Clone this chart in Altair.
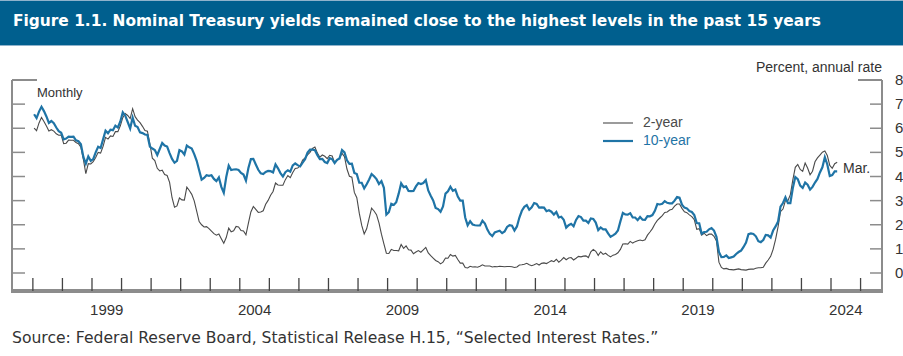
import altair as alt
import pandas as pd

# ---------------- data (monthly averages, Jan 1997 - Mar 2024) ----------------
first_year = 1997
yield_2y = [
    6.01, 5.90, 6.22, 6.45, 6.28, 6.09, 5.89, 5.94, 5.88, 5.77, 5.71, 5.72,  # 1997
    5.36, 5.38, 5.51, 5.50, 5.50, 5.41, 5.36, 5.21, 4.71, 4.12, 4.53, 4.52,  # 1998
    4.62, 4.79, 5.00, 4.97, 5.25, 5.62, 5.55, 5.68, 5.66, 5.86, 5.86, 6.10,  # 1999
    6.44, 6.61, 6.53, 6.40, 6.81, 6.48, 6.34, 6.23, 6.08, 5.91, 5.88, 5.35,  # 2000
    4.76, 4.66, 4.34, 4.23, 4.26, 4.08, 4.04, 3.76, 3.12, 2.73, 2.78, 3.11,  # 2001
    3.03, 3.02, 3.56, 3.42, 3.26, 2.99, 2.56, 2.13, 2.00, 1.91, 1.92, 1.84,  # 2002
    1.74, 1.63, 1.57, 1.62, 1.42, 1.23, 1.47, 1.86, 1.71, 1.75, 1.93, 1.91,  # 2003
    1.76, 1.74, 1.58, 2.07, 2.53, 2.76, 2.64, 2.51, 2.53, 2.58, 2.85, 3.01,  # 2004
    3.22, 3.38, 3.73, 3.65, 3.64, 3.64, 3.87, 4.04, 3.95, 4.17, 4.33, 4.35,  # 2005
    4.45, 4.68, 4.77, 4.90, 5.00, 5.16, 5.22, 4.97, 4.80, 4.89, 4.84, 4.74,  # 2006
    4.88, 4.85, 4.57, 4.67, 4.77, 4.96, 4.82, 4.31, 4.01, 3.97, 3.34, 3.12,  # 2007
    2.48, 1.97, 1.62, 1.83, 2.26, 2.69, 2.57, 2.42, 2.08, 1.61, 1.21, 0.82,  # 2008
    0.81, 0.98, 0.93, 0.93, 0.92, 1.18, 1.02, 1.12, 0.96, 0.95, 0.80, 0.87,  # 2009
    0.93, 0.86, 0.96, 1.06, 0.83, 0.72, 0.62, 0.52, 0.47, 0.38, 0.45, 0.62,  # 2010
    0.61, 0.77, 0.70, 0.73, 0.56, 0.41, 0.41, 0.23, 0.21, 0.28, 0.25, 0.26,  # 2011
    0.24, 0.28, 0.34, 0.29, 0.29, 0.29, 0.25, 0.27, 0.26, 0.28, 0.27, 0.26,  # 2012
    0.27, 0.27, 0.26, 0.23, 0.25, 0.33, 0.34, 0.36, 0.40, 0.34, 0.30, 0.34,  # 2013
    0.39, 0.33, 0.40, 0.42, 0.39, 0.45, 0.51, 0.47, 0.57, 0.45, 0.53, 0.64,  # 2014
    0.55, 0.62, 0.64, 0.54, 0.61, 0.69, 0.67, 0.70, 0.71, 0.64, 0.88, 0.98,  # 2015
    0.90, 0.73, 0.88, 0.77, 0.82, 0.73, 0.67, 0.74, 0.77, 0.84, 0.98, 1.20,  # 2016
    1.21, 1.20, 1.31, 1.24, 1.30, 1.34, 1.37, 1.34, 1.38, 1.57, 1.70, 1.84,  # 2017
    2.03, 2.18, 2.28, 2.38, 2.51, 2.53, 2.61, 2.64, 2.77, 2.86, 2.86, 2.68,  # 2018
    2.54, 2.50, 2.41, 2.34, 2.21, 1.81, 1.84, 1.57, 1.65, 1.55, 1.61, 1.61,  # 2019
    1.52, 1.33, 0.45, 0.23, 0.17, 0.19, 0.15, 0.14, 0.13, 0.15, 0.17, 0.14,  # 2020
    0.13, 0.12, 0.15, 0.16, 0.16, 0.20, 0.22, 0.22, 0.24, 0.41, 0.54, 0.69,  # 2021
    0.98, 1.39, 1.91, 2.54, 2.65, 3.00, 3.00, 3.25, 3.86, 4.38, 4.50, 4.29,  # 2022
    4.21, 4.56, 4.35, 4.07, 4.22, 4.61, 4.77, 4.89, 5.01, 5.06, 4.87, 4.46,  # 2023
    4.34, 4.53, 4.59,                                                        # 2024
]
yield_10y = [
    6.58, 6.42, 6.69, 6.89, 6.71, 6.49, 6.22, 6.30, 6.21, 6.03, 5.88, 5.81,  # 1997
    5.54, 5.57, 5.65, 5.64, 5.65, 5.50, 5.46, 5.34, 4.81, 4.53, 4.83, 4.65,  # 1998
    4.72, 5.00, 5.23, 5.18, 5.54, 5.90, 5.79, 5.94, 5.92, 6.11, 6.03, 6.28,  # 1999
    6.66, 6.52, 6.26, 5.99, 6.44, 6.10, 6.05, 5.83, 5.80, 5.74, 5.72, 5.24,  # 2000
    5.16, 5.10, 4.89, 5.14, 5.39, 5.28, 5.24, 4.97, 4.73, 4.57, 4.65, 5.09,  # 2001
    5.04, 4.91, 5.28, 5.21, 5.16, 4.93, 4.65, 4.26, 3.87, 3.94, 4.05, 4.03,  # 2002
    4.05, 3.90, 3.81, 3.96, 3.57, 3.33, 3.98, 4.45, 4.27, 4.29, 4.30, 4.27,  # 2003
    4.15, 4.08, 3.83, 4.35, 4.72, 4.73, 4.50, 4.28, 4.13, 4.10, 4.19, 4.23,  # 2004
    4.22, 4.17, 4.50, 4.34, 4.14, 4.00, 4.18, 4.26, 4.20, 4.46, 4.54, 4.47,  # 2005
    4.42, 4.57, 4.72, 4.99, 5.11, 5.11, 5.09, 4.88, 4.72, 4.73, 4.60, 4.56,  # 2006
    4.76, 4.72, 4.56, 4.69, 4.75, 5.10, 5.00, 4.67, 4.52, 4.53, 4.15, 4.10,  # 2007
    3.74, 3.74, 3.51, 3.68, 3.88, 4.10, 4.01, 3.89, 3.69, 3.81, 3.53, 2.42,  # 2008
    2.52, 2.87, 2.82, 2.93, 3.29, 3.72, 3.56, 3.59, 3.40, 3.39, 3.40, 3.59,  # 2009
    3.73, 3.69, 3.73, 3.85, 3.42, 3.20, 3.01, 2.70, 2.65, 2.54, 2.76, 3.29,  # 2010
    3.39, 3.58, 3.41, 3.46, 3.17, 3.00, 3.00, 2.30, 1.98, 2.15, 2.01, 1.98,  # 2011
    1.97, 1.97, 2.17, 2.05, 1.80, 1.62, 1.53, 1.68, 1.72, 1.75, 1.65, 1.72,  # 2012
    1.91, 1.98, 1.96, 1.76, 1.93, 2.30, 2.58, 2.74, 2.81, 2.62, 2.72, 2.90,  # 2013
    2.86, 2.71, 2.72, 2.71, 2.56, 2.60, 2.54, 2.42, 2.53, 2.30, 2.33, 2.21,  # 2014
    1.88, 1.98, 2.04, 1.94, 2.20, 2.36, 2.32, 2.17, 2.17, 2.07, 2.26, 2.24,  # 2015
    2.09, 1.78, 1.89, 1.81, 1.81, 1.64, 1.50, 1.56, 1.63, 1.76, 2.14, 2.49,  # 2016
    2.43, 2.42, 2.48, 2.30, 2.30, 2.19, 2.32, 2.21, 2.20, 2.36, 2.35, 2.40,  # 2017
    2.58, 2.86, 2.84, 2.87, 2.98, 2.91, 2.89, 2.89, 3.00, 3.15, 3.12, 2.83,  # 2018
    2.71, 2.68, 2.57, 2.53, 2.40, 2.07, 2.06, 1.63, 1.70, 1.71, 1.81, 1.86,  # 2019
    1.76, 1.50, 0.87, 0.66, 0.67, 0.73, 0.62, 0.65, 0.68, 0.79, 0.87, 0.93,  # 2020
    1.08, 1.26, 1.61, 1.64, 1.62, 1.52, 1.32, 1.28, 1.37, 1.58, 1.56, 1.47,  # 2021
    1.76, 1.93, 2.13, 2.75, 2.90, 3.14, 2.90, 2.90, 3.52, 3.98, 3.89, 3.62,  # 2022
    3.53, 3.75, 3.66, 3.46, 3.57, 3.75, 3.90, 4.17, 4.38, 4.80, 4.50, 4.02,  # 2023
    4.06, 4.21, 4.21,                                                        # 2024
]
series_names = ["2-year", "10-year"]
series_colors = ["#4a4a4a", "#1f74a6"]
tick_years = list(range(1997, 2026))
label_years = [1999, 2004, 2009, 2014, 2019, 2024]
y_ticks = [0, 1, 2, 3, 4, 5, 6, 7, 8]

title_text = "Figure 1.1. Nominal Treasury yields remained close to the highest levels in the past 15 years"
source_text = "Source: Federal Reserve Board, Statistical Release H.15, \u201cSelected Interest Rates.\u201d"

# ---------------- layout ----------------
W, H = 870, 211
FONT = "Liberation Sans"
WIDE = "DejaVu Sans"
TXT = "#333333"
FRAME = "#8c8c8c"

t = [first_year + (i + 0.5) / 12 for i in range(len(yield_2y))]
df = pd.concat([
    pd.DataFrame({"t": t, "v": yield_2y, "s": series_names[0]}),
    pd.DataFrame({"t": t, "v": yield_10y, "s": series_names[1]}),
])

xs = alt.Scale(domain=[1996.294, 2025.725], nice=False, zero=False)
ys = alt.Scale(domain=[-0.746, 8], nice=False, zero=False)

base = alt.Chart(df)

lines = base.mark_line(interpolate="linear", clip=False).encode(
    x=alt.X("t:Q", scale=xs, axis=None),
    y=alt.Y("v:Q", scale=ys, axis=None),
    color=alt.Color("s:N", scale=alt.Scale(domain=series_names, range=series_colors), legend=None),
    strokeWidth=alt.StrokeWidth("s:N", scale=alt.Scale(domain=series_names, range=[1.1, 2.2]), legend=None),
    order=alt.Order("t:Q"),
)

# x ticks (inward) and labels
xt = pd.DataFrame({"t": tick_years})
xticks = alt.Chart(xt).mark_rule(color="#444444", strokeWidth=1.3).encode(
    x=alt.X("t:Q", scale=xs, axis=None), y=alt.value(H), y2=alt.value(H - 13)
)
xl = pd.DataFrame({"t": [y + 0.5 for y in label_years], "lab": [str(y) for y in label_years]})
xlabels = alt.Chart(xl).mark_text(font=FONT, fontSize=15, color=TXT, baseline="middle").encode(
    x=alt.X("t:Q", scale=xs, axis=None), y=alt.value(H + 19), text="lab:N"
)

# y ticks (both sides, inward) and right labels
yt = pd.DataFrame({"v": y_ticks, "lab": [str(v) for v in y_ticks]})
ytl = alt.Chart(yt).mark_rule(color=FRAME, strokeWidth=1.5).encode(
    y=alt.Y("v:Q", scale=ys, axis=None), x=alt.value(0), x2=alt.value(13)
)
ytr = alt.Chart(yt).mark_rule(color=FRAME, strokeWidth=1.5).encode(
    y=alt.Y("v:Q", scale=ys, axis=None), x=alt.value(W - 12), x2=alt.value(W)
)
ylabels = alt.Chart(yt).mark_text(font=FONT, fontSize=15, color=TXT, align="left", baseline="middle").encode(
    y=alt.Y("v:Q", scale=ys, axis=None), x=alt.value(W + 13), text="lab:N"
)

# frame
frame_left = alt.Chart(xt).mark_rule(color=FRAME, strokeWidth=2).encode(
    x=alt.value(0), y=alt.value(0), y2=alt.value(H))
frame_right = alt.Chart(xt).mark_rule(color=FRAME, strokeWidth=2).encode(
    x=alt.value(W), y=alt.value(0), y2=alt.value(H))
frame_bottom = alt.Chart(xt).mark_rule(color=FRAME, strokeWidth=3).encode(
    x=alt.value(-1), x2=alt.value(W + 1), y=alt.value(H))
top_left = alt.Chart(xt).mark_rule(color=FRAME, strokeWidth=1.5).encode(
    x=alt.value(0), x2=alt.value(25), y=alt.value(0))
top_right = alt.Chart(xt).mark_rule(color=FRAME, strokeWidth=1.5).encode(
    x=alt.value(W - 24), x2=alt.value(W), y=alt.value(0))

# legend
leg = pd.DataFrame({"s": series_names, "yy": [43, 61]})
leg_lines = alt.Chart(leg).mark_rule().encode(
    x=alt.value(591), x2=alt.value(621), y=alt.Y("yy:Q", scale=None),
    color=alt.Color("s:N", scale=alt.Scale(domain=series_names, range=series_colors), legend=None),
    strokeWidth=alt.StrokeWidth("s:N", scale=alt.Scale(domain=series_names, range=[1.1, 2.2]), legend=None),
)
leg_text = alt.Chart(leg).mark_text(font=FONT, fontSize=14, align="left", baseline="middle").encode(
    x=alt.value(631), y=alt.Y("yy:Q", scale=None), text="s:N",
    color=alt.Color("s:N", scale=alt.Scale(domain=series_names, range=["#333333", "#1f74a6"]), legend=None),
)

ann = pd.DataFrame({"k": [0]})
def txt(text, x, y, size, color=TXT, align="left", weight="normal", baseline="middle", font=FONT):
    return alt.Chart(ann).mark_text(
        text=text, font=font, fontSize=size, color=color, align=align,
        fontWeight=weight, baseline=baseline, clip=False,
    ).encode(x=alt.value(x), y=alt.value(y))

monthly = txt("Monthly", 25, 13, 13)
percent = txt("Percent, annual rate", W, -12, 14, align="right")
mar = txt("Mar.", 831, 89, 14)
source = txt(source_text, 0, 47 + H, 15.6, font=WIDE)

banner = alt.Chart(ann).mark_rect(color="#005f8e").encode(
    x=alt.value(-12), x2=alt.value(891), y=alt.value(-79), y2=alt.value(-35))
banner_top = alt.Chart(ann).mark_rule(color="#8fb3cc", strokeWidth=1).encode(
    x=alt.value(-12), x2=alt.value(891), y=alt.value(-79.5))
banner_bot = alt.Chart(ann).mark_rule(color="#8fb3cc", strokeWidth=1).encode(
    x=alt.value(-12), x2=alt.value(891), y=alt.value(-34.5))
title = txt(title_text, 1, -54, 15.4, color="white", weight="bold", baseline="alphabetic", font=WIDE)

chart = alt.layer(
    banner, banner_top, banner_bot, title,
    frame_left, frame_right, frame_bottom, top_left, top_right,
    xticks, ytl, ytr, xlabels, ylabels,
    lines, leg_lines, leg_text, monthly, percent, mar, source,
).properties(
    width=W, height=H,
    autosize=alt.AutoSizeParams(type="none"),
    padding={"left": 12, "top": 80, "right": 21, "bottom": 65},
    background="white",
).configure_view(stroke=None)

chart.save("out.html", embed_options={"renderer": "svg", "actions": False})
